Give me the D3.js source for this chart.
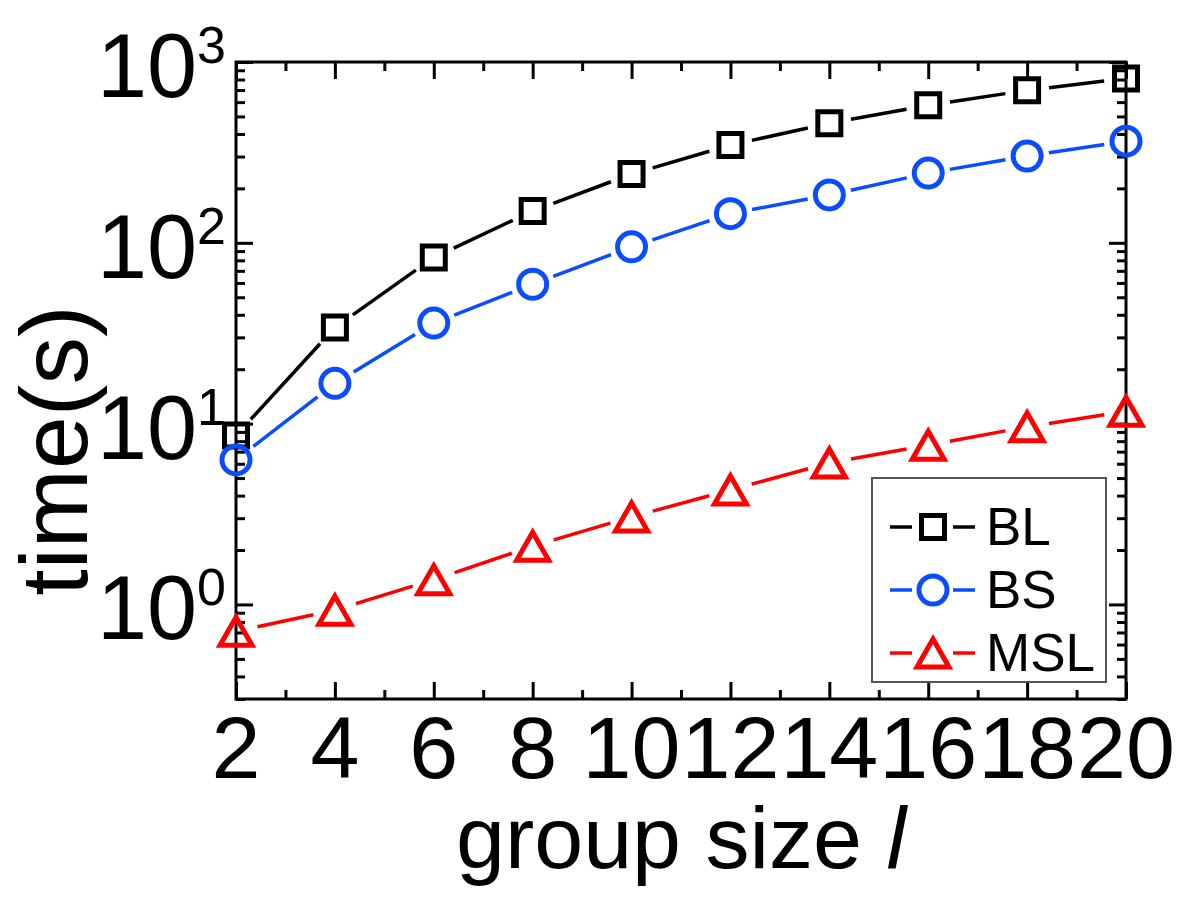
<!DOCTYPE html>
<html>
<head>
<meta charset="utf-8">
<script src="https://cdn.jsdelivr.net/npm/d3@7"></script>
<style>
  html, body { margin: 0; padding: 0; background: #fff; }
  svg { display: block; font-family: 'Liberation Sans', Arial, sans-serif; }
</style>
</head>
<body>
<svg id="chart" width="1181" height="905"></svg>
<script>
// values
const groupSizes = [2, 4, 6, 8, 10, 12, 14, 16, 18, 20]
const blTimes = [8.6, 34, 83, 150, 240, 347, 459, 576, 697, 811]
const bsTimes = [6.3, 16.7, 36, 59, 95, 145, 184, 243, 302, 365]
const mslTimes = [0.71, 0.93, 1.37, 2.1, 3.05, 4.3, 6.06, 7.6, 9.6, 11.7]

const xMajorTicks = [2, 4, 6, 8, 10, 12, 14, 16, 18, 20]
const xMinorTicks = [3, 5, 7, 9, 11, 13, 15, 17, 19]
const yMajorTicks = [1, 10, 100, 1000]
const yMajorExp = ['0', '1', '2', '3']
const yMinorTicks = [0.3, 0.4, 0.5, 0.6, 0.7, 0.8, 0.9,
  2, 3, 4, 5, 6, 7, 8, 9, 20, 30, 40, 50, 60, 70, 80, 90,
  200, 300, 400, 500, 600, 700, 800, 900]

const seriesNames = ['BL', 'BS', 'MSL']
const seriesColors = ['#000000', '#0a4dff', '#ff0000']
const seriesShapes = ['square', 'circle', 'triangle']

const margin = { top: 62, right: 55, bottom: 206, left: 236 }
const width = 1181 - margin.left - margin.right
const height = 905 - margin.top - margin.bottom

const svg = d3.select('#chart')
const g = svg.append('g').attr('transform', `translate(${margin.left}, ${margin.top})`)

const x = d3.scaleLinear().domain([2, 20]).range([0, width])
const y = d3.scaleLog().domain([0.3, 1000]).range([height, 0])

// axes with inward ticks, mirrored on all four sides
const axisStyle = sel => {
  sel.select('.domain').remove()
  sel.selectAll('line').attr('stroke', '#000').attr('stroke-width', 3)
  sel.selectAll('text').remove()
}
const addAxis = (axisFn, scale, values, size, transform) => {
  g.append('g')
    .attr('transform', transform)
    .call(axisFn(scale).tickValues(values).tickSizeInner(-size).tickSizeOuter(0))
    .call(axisStyle)
}
addAxis(d3.axisBottom, x, xMajorTicks, 17, `translate(0, ${height})`)
addAxis(d3.axisBottom, x, xMinorTicks, 9, `translate(0, ${height})`)
addAxis(d3.axisTop, x, xMajorTicks, 17, 'translate(0, 0)')
addAxis(d3.axisTop, x, xMinorTicks, 9, 'translate(0, 0)')
addAxis(d3.axisLeft, y, yMajorTicks, 17, 'translate(0, 0)')
addAxis(d3.axisLeft, y, yMinorTicks, 9, 'translate(0, 0)')
addAxis(d3.axisRight, y, yMajorTicks, 17, `translate(${width}, 0)`)
addAxis(d3.axisRight, y, yMinorTicks, 9, `translate(${width}, 0)`)

g.append('rect')
  .attr('width', width)
  .attr('height', height)
  .attr('fill', 'none')
  .attr('stroke', '#000')
  .attr('stroke-width', 3)

// tick labels
g.append('g')
  .selectAll('text')
  .data(xMajorTicks)
  .join('text')
  .attr('x', d => x(d))
  .attr('y', height + 79)
  .attr('text-anchor', 'middle')
  .attr('font-size', 88)
  .text(d => d)

const yLabels = g.append('g')
  .selectAll('text')
  .data(yMajorTicks)
  .join('text')
  .attr('x', -10)
  .attr('y', d => y(d) + 35)
  .attr('text-anchor', 'end')
  .attr('font-size', 90)
yLabels.append('tspan').text('10')
yLabels.append('tspan')
  .attr('font-size', 52)
  .attr('dy', -34)
  .text((d, i) => yMajorExp[i])

// axis titles
svg.append('text')
  .attr('x', margin.left + width / 2)
  .attr('y', 868)
  .attr('text-anchor', 'middle')
  .attr('font-size', 88)
  .text('group size ')
  .append('tspan')
  .attr('font-style', 'italic')
  .text('l')

svg.append('text')
  .attr('transform', `translate(87, ${margin.top + height / 2 + 70}) rotate(-90)`)
  .attr('text-anchor', 'middle')
  .attr('font-size', 95)
  .text('time(s)')

// markers
const markerPath = shape => {
  if (shape === 'square') return 'M-11.5,-11.5H11.5V11.5H-11.5Z'
  if (shape === 'circle') return 'M14,0A14,14 0 1,1 -14,0A14,14 0 1,1 14,0Z'
  return 'M0,-14L16,14H-16Z'
}

const gap = 22
const allSeries = [blTimes, bsTimes, mslTimes]

allSeries.forEach((values, si) => {
  const pts = values.map((v, i) => [x(groupSizes[i]), y(v)])
  const segs = d3.pairs(pts).map(([a, b]) => {
    const dx = b[0] - a[0]
    const dy = b[1] - a[1]
    const len = Math.hypot(dx, dy)
    const ux = dx / len
    const uy = dy / len
    return [a[0] + ux * gap, a[1] + uy * gap, b[0] - ux * gap, b[1] - uy * gap]
  })
  const sg = g.append('g')
  sg.selectAll('line')
    .data(segs)
    .join('line')
    .attr('x1', d => d[0])
    .attr('y1', d => d[1])
    .attr('x2', d => d[2])
    .attr('y2', d => d[3])
    .attr('stroke', seriesColors[si])
    .attr('stroke-width', 3.5)
  sg.selectAll('path')
    .data(pts)
    .join('path')
    .attr('transform', d => `translate(${d[0]}, ${d[1]})`)
    .attr('d', markerPath(seriesShapes[si]))
    .attr('fill', 'none')
    .attr('stroke', seriesColors[si])
    .attr('stroke-width', 5)
    .attr('stroke-linejoin', 'miter')
})

// legend
const legend = svg.append('g').attr('transform', 'translate(872, 478)')
legend.append('rect')
  .attr('width', 234)
  .attr('height', 204)
  .attr('fill', '#fff')
  .attr('stroke', '#555')
  .attr('stroke-width', 2)

const entries = legend.selectAll('g.entry')
  .data(seriesNames)
  .join('g')
  .attr('class', 'entry')
  .attr('transform', (d, i) => `translate(0, ${49 + i * 63})`)

entries.append('line')
  .attr('x1', 18).attr('x2', 40).attr('y1', 0).attr('y2', 0)
  .attr('stroke', (d, i) => seriesColors[i])
  .attr('stroke-width', 3.5)
entries.append('line')
  .attr('x1', 81).attr('x2', 103).attr('y1', 0).attr('y2', 0)
  .attr('stroke', (d, i) => seriesColors[i])
  .attr('stroke-width', 3.5)
entries.append('path')
  .attr('transform', 'translate(61, 0)')
  .attr('d', (d, i) => markerPath(seriesShapes[i]))
  .attr('fill', 'none')
  .attr('stroke', (d, i) => seriesColors[i])
  .attr('stroke-width', 5)
entries.append('text')
  .attr('x', 114)
  .attr('y', 18)
  .attr('font-size', 53)
  .text(d => d)
</script>
</body>
</html>
